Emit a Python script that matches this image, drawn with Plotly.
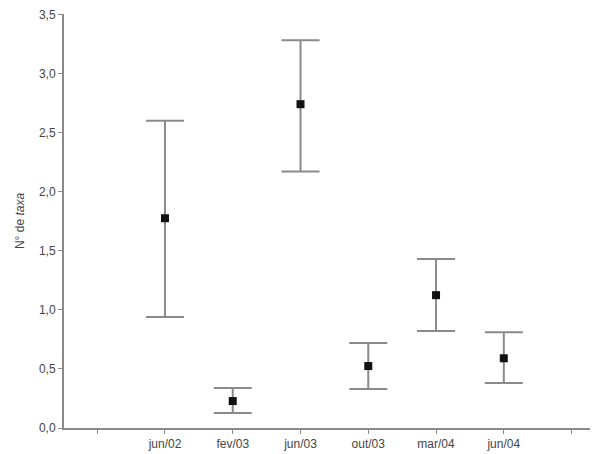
import plotly.graph_objects as go

categories = ["jun/02", "fev/03", "jun/03", "out/03", "mar/04", "jun/04"]
means = [1.775, 0.228, 2.74, 0.524, 1.124, 0.59]
upper = [2.60, 0.338, 3.28, 0.72, 1.43, 0.81]
lower = [0.94, 0.127, 2.17, 0.33, 0.82, 0.38]
y_ticks = [0.0, 0.5, 1.0, 1.5, 2.0, 2.5, 3.0, 3.5]

xpos = list(range(1, len(categories) + 1))
err_plus = [u - m for u, m in zip(upper, means)]
err_minus = [m - l for m, l in zip(means, lower)]

fig = go.Figure()
fig.add_trace(go.Scatter(
    x=xpos, y=means, mode="markers",
    marker=dict(symbol="square", size=8, color="#111111"),
    error_y=dict(type="data", symmetric=False, array=err_plus, arrayminus=err_minus,
                 color="#8a8a8a", thickness=2, width=19),
    showlegend=False,
))

axis_col = "#8a8a8a"
fig.update_layout(
    width=590, height=446,
    margin=dict(l=56, r=0, t=6, b=26),
    paper_bgcolor="white", plot_bgcolor="white",
    separators=",.",
    font=dict(family="Liberation Sans, Arial, sans-serif", size=12, color="#444444"),
    xaxis=dict(range=[-0.49, 7.39], tickvals=list(range(0, 8)),
               ticktext=[""] + categories + [""],
               showgrid=False, zeroline=False, showline=True, linecolor=axis_col, linewidth=2,
               ticks="outside", ticklen=4, tickcolor=axis_col, tickwidth=1,
               tickfont=dict(size=12, color="#444444")),
    yaxis=dict(range=[0, 3.503], tickvals=y_ticks, tickformat=".1f",
               showgrid=False, zeroline=False, showline=True, linecolor=axis_col, linewidth=2,
               ticks="outside", ticklen=4, tickcolor=axis_col, tickwidth=1,
               ticklabeloverflow="allow",
               title=dict(text="N° de <i>taxa</i>", font=dict(size=12, color="#444444"), standoff=12),
               tickfont=dict(size=12, color="#444444")),
)

fig.write_html("out.html")
